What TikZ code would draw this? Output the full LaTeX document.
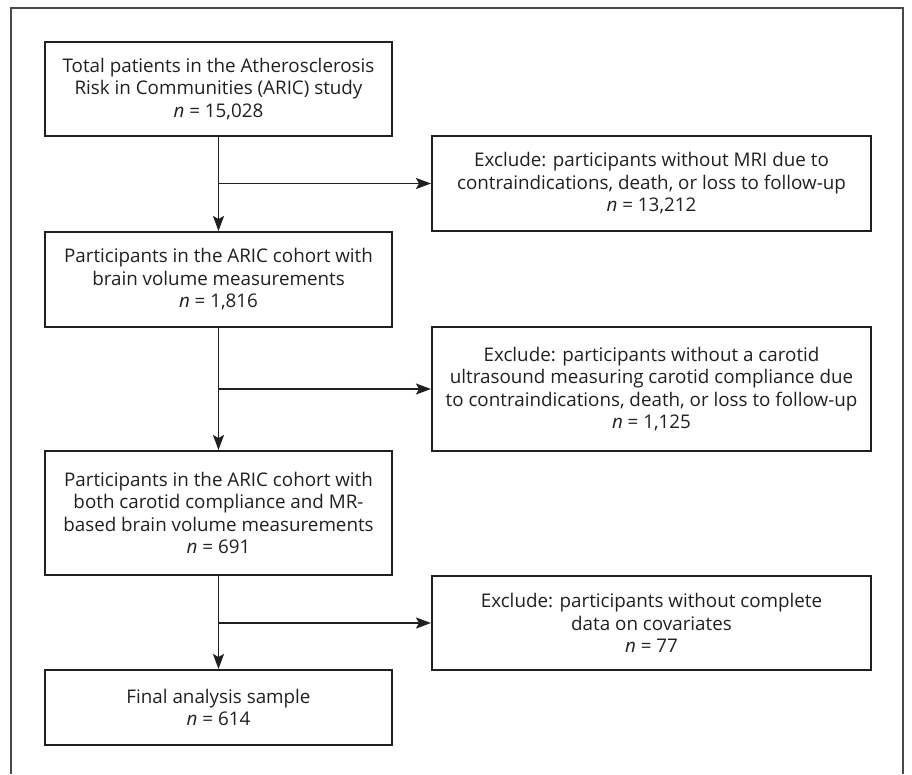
\documentclass[tikz,border=0pt]{standalone}
\usepackage{fontspec}
\setmainfont{Open Sans}
\usetikzlibrary{arrows.meta}
\definecolor{ink}{HTML}{231F20}
\definecolor{frame}{HTML}{4A4A4A}
\begin{document}
\begin{tikzpicture}[x=1pt,y=-1pt,
  box/.style={draw=ink,line width=2pt,text=ink,align=center,inner sep=0pt,
    font=\fontsize{18.8}{22.5}\selectfont},
  mainbox/.style={box,minimum width=347pt},
  exbox/.style={box,minimum width=439pt},
  flow/.style={draw=ink,line width=1.8pt},
  arr/.style={flow,-{Stealth[length=15pt,width=11pt,inset=3pt]}}]
\useasboundingbox (0,0) rectangle (912,774);
\draw[frame,line width=1.3pt] (11,774) -- (11,8) -- (903,8) -- (903,774);

\node[mainbox,minimum height=94pt] (b1) at (218.5,89)
  {Total patients in the Atherosclerosis\\Risk in Communities (ARIC) study\\\textit{n} = 15,028};
\node[exbox,minimum height=95pt] (e1) at (651.5,183.5)
  {Exclude: participants without MRI due to\\contraindications, death, or loss to follow-up\\\textit{n} = 13,212};
\node[mainbox,minimum height=95pt] (b2) at (218.5,279.5)
  {Participants in the ARIC cohort with\\brain volume measurements\\\textit{n} = 1,816};
\node[exbox,minimum height=124pt] (e2) at (651.5,389)
  {Exclude: participants without a carotid\\ultrasound measuring carotid compliance due\\to contraindications, death, or loss to follow-up\\\textit{n} = 1,125};
\node[mainbox,minimum height=124pt] (b3) at (218.5,513)
  {Participants in the ARIC cohort with\\both carotid compliance and MR-\\based brain volume measurements\\\textit{n} = 691};
\node[exbox,minimum height=94pt] (e3) at (651.5,623)
  {Exclude: participants without complete\\data on covariates\\\textit{n} = 77};
\node[mainbox,minimum height=75pt] (b4) at (218.5,707.5)
  {Final analysis sample\\\textit{n} = 614};

\draw[arr] (b1.south) -- (b2.north);
\draw[arr] (b1.south |- e1.west) -- (e1.west);
\draw[arr] (b2.south) -- (b3.north);
\draw[arr] (b2.south |- e2.west) -- (e2.west);
\draw[arr] (b3.south) -- (b4.north);
\draw[arr] (b3.south |- e3.west) -- (e3.west);
\end{tikzpicture}
\end{document}
